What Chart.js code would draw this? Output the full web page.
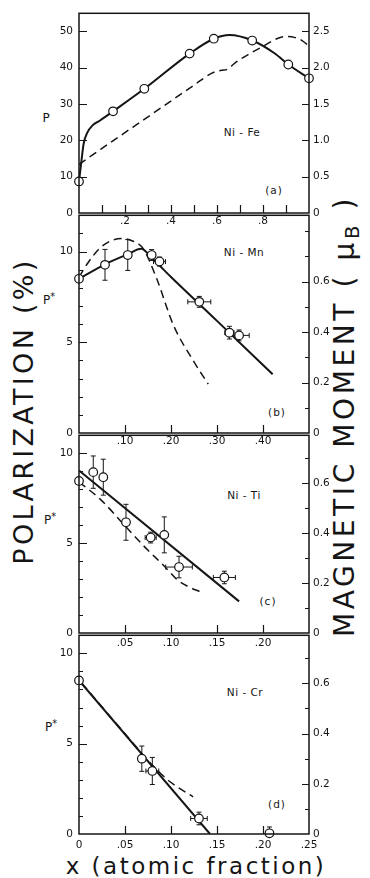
<!DOCTYPE html>
<html>
<head>
<meta charset="utf-8">
<script src="https://cdn.jsdelivr.net/npm/chart.js@4.4.0/dist/chart.umd.min.js"></script>
<style>
  html, body { margin: 0; padding: 0; background: #fff; }
  #wrap { position: relative; width: 370px; height: 878px; overflow: hidden;
          font-family: "DejaVu Sans", sans-serif; color: #151515; }
  canvas { position: absolute; left: 0; }
  .lbl { position: absolute; transform: translate(-50%, -50%); white-space: nowrap; }
  .big { position: absolute; white-space: nowrap; transform: translate(-50%, -50%) rotate(-90deg); }
  sup { font-size: 0.8em; vertical-align: 0.35em; }
  sub { font-size: 0.7em; vertical-align: -0.25em; }
</style>
</head>
<body>
<div id="wrap">
  <div class="big" style="left:23px; top:411px; font-size:27px; letter-spacing:3.3px;">POLARIZATION (%)</div>
  <div class="big" style="left:346px; top:416px; font-size:28px; letter-spacing:3.6px;">MAGNETIC MOMENT ( μ<sub>B</sub> )</div>
  <div class="lbl" style="left:196px; top:866px; font-size:23px; letter-spacing:2.5px;">x (atomic fraction)</div>

  <div class="lbl" style="left:46px; top:118px; font-size:12px;">P</div>
  <div class="lbl" style="left:49px; top:299px; font-size:12px;">P<sup>*</sup></div>
  <div class="lbl" style="left:50px; top:519px; font-size:12px;">P<sup>*</sup></div>
  <div class="lbl" style="left:51px; top:726px; font-size:12px;">P<sup>*</sup></div>

  <div class="lbl" style="left:242px; top:132px; font-size:10.5px; letter-spacing:0.5px;">Ni - Fe</div>
  <div class="lbl" style="left:274px; top:190px; font-size:10.5px; letter-spacing:1px;">(a)</div>
  <div class="lbl" style="left:244px; top:252px; font-size:10.5px; letter-spacing:0.5px;">Ni - Mn</div>
  <div class="lbl" style="left:277px; top:412px; font-size:10.5px; letter-spacing:1px;">(b)</div>
  <div class="lbl" style="left:244px; top:495px; font-size:10.5px; letter-spacing:0.5px;">Ni - Ti</div>
  <div class="lbl" style="left:268px; top:601px; font-size:10.5px; letter-spacing:1px;">(c)</div>
  <div class="lbl" style="left:245px; top:692px; font-size:10.5px; letter-spacing:0.5px;">Ni - Cr</div>
  <div class="lbl" style="left:277px; top:804px; font-size:10.5px; letter-spacing:1px;">(d)</div>
</div>

<script>
const ink = "#151515";
const tickFont = { family: "DejaVu Sans", size: 10.5 };

// (a) Ni-Fe : P against x, moment = P / 20
const feX = [0, 0.148, 0.284, 0.481, 0.586, 0.753, 0.91, 1.0];
const feP = [8.7, 28.0, 34.2, 43.9, 48.0, 47.5, 40.9, 37.1];
const feSolidX = [0, 0.01, 0.02, 0.035, 0.06, 0.09, 0.148, 0.284, 0.481, 0.586, 0.655, 0.753, 0.85, 0.91, 1.0];
const feSolidP = [8.7, 14, 19, 22, 24.2, 25.4, 28, 34.2, 43.9, 48.0, 49.0, 47.5, 44.0, 40.9, 37.1];
const feDashX = [0, 0.1, 0.3, 0.5, 0.58, 0.62, 0.645, 0.68, 0.74, 0.8, 0.86, 0.9, 0.94, 0.97, 1.0];
const feDashP = [13.4, 17.8, 26.5, 35.2, 38.6, 39.3, 39.6, 41.4, 43.8, 45.9, 48.0, 48.6, 48.3, 47.5, 46.0];

// (b) Ni-Mn
const mnX = [0, 0.0565, 0.106, 0.158, 0.175, 0.2615, 0.327, 0.348];
const mnP = [8.5, 9.27, 9.81, 9.81, 9.45, 7.23, 5.53, 5.38];
const mnErrP = [0, 0.85, 0.85, 0.3, 0.25, 0.3, 0.35, 0.3];
const mnErrX = [0, 0, 0, 0.008, 0.013, 0.025, 0.01, 0.022];
const mnSolidX = [0, 0.0565, 0.106, 0.135, 0.16, 0.2, 0.3, 0.421];
const mnSolidP = [8.5, 9.3, 9.85, 10.15, 9.6, 8.6, 6.18, 3.24];
const mnDashX = [0, 0.02, 0.0457, 0.07, 0.093, 0.115, 0.14, 0.169, 0.205, 0.249, 0.281];
const mnDashP = [8.6, 9.4, 10.2, 10.6, 10.72, 10.6, 10.14, 8.5, 5.96, 3.96, 2.69];

// (c) Ni-Ti
const tiX = [0, 0.0155, 0.0264, 0.0511, 0.0779, 0.0927, 0.1087, 0.158];
const tiP = [8.46, 8.95, 8.67, 6.16, 5.31, 5.46, 3.67, 3.09];
const tiErrP = [0, 0.9, 1.0, 1.0, 0.3, 1.0, 0.6, 0.35];
const tiErrX = [0, 0, 0, 0, 0.006, 0, 0.0145, 0.012];
const tiSolidX = [0, 0.174];
const tiSolidP = [9.04, 1.76];
const tiDashX = [0, 0.023, 0.052, 0.075, 0.092, 0.106, 0.118, 0.1315];
const tiDashP = [8.4, 7.45, 5.85, 4.6, 3.76, 3.0, 2.6, 2.3];

// (d) Ni-Cr
const crX = [0, 0.0683, 0.0797, 0.1304, 0.207];
const crP = [8.5, 4.17, 3.49, 0.86, 0.04];
const crErrP = [0, 0.7, 0.75, 0.35, 0.35];
const crErrX = [0, 0.003, 0.007, 0.009, 0];
const crSolidX = [0, 0.1424];
const crSolidP = [8.5, 0];
const crDashX = [0.003, 0.05, 0.08, 0.1, 0.124];
const crDashP = [8.35, 5.55, 3.8, 2.85, 2.06];

// tick labels
const feXTicks = [0.2, 0.4, 0.6, 0.8];
const feXText = [".2", ".4", ".6", ".8"];
const feYTicks = [0, 10, 20, 30, 40, 50];
const feYText = ["0", "10", "20", "30", "40", "50"];
const feMTicks = [0, 0.5, 1, 1.5, 2, 2.5];
const feMText = ["0", "0.5", "1.0", "1.5", "2.0", "2.5"];
const mnXTicks = [0.1, 0.2, 0.3, 0.4];
const mnXText = [".10", ".20", ".30", ".40"];
const tiXTicks = [0.05, 0.1, 0.15, 0.2];
const tiXText = [".05", ".10", ".15", ".20"];
const crXTicks = [0, 0.05, 0.1, 0.15, 0.2, 0.25];
const crXText = ["0", ".05", ".10", ".15", ".20", ".25"];
const pTicks = [0, 5, 10];
const pText = ["0", "5", "10"];
const mTicks = [0, 0.2, 0.4, 0.6];
const mText = ["0", "0.2", "0.4", "0.6"];

// P* units per Bohr magneton on panels b-d
const pPerMoment = 13.9;

const panels = [
  { id: "a", top: 11, height: 202, xMax: 1, xStep: 0.1, xPad: 2, yMax: 55, yStep: 10, mMax: 55 / 20, mStep: 0.5,
    xt: [feXTicks, feXText], yt: [feYTicks, feYText], mt: [feMTicks, feMText], yMinor: 8, mMinor: 7,
    ptsX: feX, ptsY: feP, errX: null, errY: null,
    solidX: feSolidX, solidY: feSolidP, dashX: feDashX, dashY: feDashP },
  { id: "b", top: 213, height: 220, xMax: 0.5, xStep: 0.1, xPad: 2, yMax: 12, yStep: 1, mMax: 12 / pPerMoment, mStep: 0.1,
    xt: [mnXTicks, mnXText], yt: [pTicks, pText], mt: [mTicks, mText], yMinor: 4, mMinor: 4,
    ptsX: mnX, ptsY: mnP, errX: mnErrX, errY: mnErrP,
    solidX: mnSolidX, solidY: mnSolidP, dashX: mnDashX, dashY: mnDashP },
  { id: "c", top: 433, height: 200, xMax: 0.25, xStep: 0.05, xPad: 4, yMax: 11, yStep: 1, mMax: 11 / pPerMoment, mStep: 0.1,
    xt: [tiXTicks, tiXText], yt: [pTicks, pText], mt: [mTicks, mText], yMinor: 4, mMinor: 4,
    ptsX: tiX, ptsY: tiP, errX: tiErrX, errY: tiErrP,
    solidX: tiSolidX, solidY: tiSolidP, dashX: tiDashX, dashY: tiDashP },
  { id: "d", top: 633, height: 201, xMax: 0.25, xStep: 0.05, xPad: 5, yMax: 11, yStep: 1, mMax: 11 / pPerMoment, mStep: 0.1,
    xt: [crXTicks, crXText], yt: [pTicks, pText], mt: [mTicks, mText], yMinor: 4, mMinor: 4,
    ptsX: crX, ptsY: crP, errX: crErrX, errY: crErrP,
    solidX: crSolidX, solidY: crSolidP, dashX: crDashX, dashY: crDashP }
];

function toXY(xs, ys) {
  return xs.map((x, i) => ({ x: x, y: ys[i] }));
}

function pick(pair) {
  return function (v) {
    for (let i = 0; i < pair[0].length; i++) {
      if (Math.abs(pair[0][i] - v) < 1e-6) return pair[1][i];
    }
    return "";
  };
}

// error bars under the circles, frame and inward ticks on top
function panelPlugin(p) {
  return {
    id: "panel_" + p.id,
    beforeDatasetsDraw(chart) {
      if (!p.errX && !p.errY) return;
      const { ctx, chartArea: a, scales } = chart;
      const x = scales.x, y = scales.y;
      ctx.save();
      ctx.beginPath();
      ctx.rect(a.left, a.top, a.right - a.left, a.bottom - a.top);
      ctx.clip();
      ctx.strokeStyle = ink;
      ctx.lineWidth = 1;
      p.ptsX.forEach((xv, i) => {
        const yv = p.ptsY[i];
        const px = x.getPixelForValue(xv), py = y.getPixelForValue(yv);
        const ey = p.errY[i], ex = p.errX[i];
        ctx.beginPath();
        if (ey) {
          const t = y.getPixelForValue(yv + ey), b = y.getPixelForValue(yv - ey);
          ctx.moveTo(px, t); ctx.lineTo(px, b);
          ctx.moveTo(px - 2.5, t); ctx.lineTo(px + 2.5, t);
          ctx.moveTo(px - 2.5, b); ctx.lineTo(px + 2.5, b);
        }
        if (ex) {
          const l = x.getPixelForValue(xv - ex), r = x.getPixelForValue(xv + ex);
          ctx.moveTo(l, py); ctx.lineTo(r, py);
          ctx.moveTo(l, py - 2.5); ctx.lineTo(l, py + 2.5);
          ctx.moveTo(r, py - 2.5); ctx.lineTo(r, py + 2.5);
        }
        ctx.stroke();
      });
      ctx.restore();
    },
    afterDraw(chart) {
      const { ctx, chartArea: a, scales } = chart;
      ctx.save();
      ctx.strokeStyle = ink;
      ctx.lineWidth = 1.5;
      ctx.strokeRect(a.left, a.top, a.right - a.left, a.bottom - a.top);
      ctx.lineWidth = 1.2;
      ctx.beginPath();
      scales.x.ticks.forEach(t => {
        if (t.value <= scales.x.min + 1e-9 || t.value >= scales.x.max - 1e-9) return;
        const px = Math.round(scales.x.getPixelForValue(t.value)) + 0.5;
        ctx.moveTo(px, a.bottom); ctx.lineTo(px, a.bottom - 8);
      });
      scales.y.ticks.forEach(t => {
        if (t.value <= scales.y.min + 1e-9 || t.value >= scales.y.max - 1e-9) return;
        const py = Math.round(scales.y.getPixelForValue(t.value)) + 0.5;
        ctx.moveTo(a.left, py); ctx.lineTo(a.left + (t.label ? 8 : p.yMinor), py);
      });
      scales.y2.ticks.forEach(t => {
        if (t.value <= scales.y2.min + 1e-9 || t.value >= scales.y2.max - 1e-9) return;
        const py = Math.round(scales.y2.getPixelForValue(t.value)) + 0.5;
        ctx.moveTo(a.right, py); ctx.lineTo(a.right - (t.label ? 7 : p.mMinor), py);
      });
      ctx.stroke();
      ctx.restore();
    }
  };
}

function makeConfig(p) {
  return {
    type: "scatter",
    data: {
      datasets: [
        { data: toXY(p.ptsX, p.ptsY), showLine: false, pointRadius: 4.3,
          pointBackgroundColor: "#fff", pointBorderColor: ink, pointBorderWidth: 1.2, clip: false },
        { data: toXY(p.solidX, p.solidY), showLine: true, borderColor: ink, borderWidth: 2,
          pointRadius: 0, cubicInterpolationMode: "monotone" },
        { data: toXY(p.dashX, p.dashY), showLine: true, borderColor: ink, borderWidth: 1.5,
          borderDash: [8, 5], pointRadius: 0, cubicInterpolationMode: "monotone" }
      ]
    },
    options: {
      responsive: false,
      maintainAspectRatio: false,
      animation: false,
      events: [],
      layout: { padding: { top: 10, left: 0, right: 0, bottom: 0 } },
      plugins: { legend: { display: false }, tooltip: { enabled: false } },
      scales: {
        x: {
          type: "linear", min: 0, max: p.xMax,
          grid: { display: false, drawTicks: false }, border: { display: false },
          ticks: { stepSize: p.xStep, autoSkip: false, maxRotation: 0, padding: p.xPad,
                   font: tickFont, color: ink, callback: pick(p.xt) },
          afterFit: s => { s.height = 20; }
        },
        y: {
          type: "linear", position: "left", min: 0, max: p.yMax,
          grid: { display: false, drawTicks: false }, border: { display: false },
          ticks: { stepSize: p.yStep, autoSkip: false, includeBounds: false, padding: 6,
                   font: tickFont, color: ink, callback: pick(p.yt) },
          afterFit: s => { s.width = 79; }
        },
        y2: {
          type: "linear", position: "right", min: 0, max: p.mMax,
          grid: { display: false, drawTicks: false }, border: { display: false },
          ticks: { stepSize: p.mStep, autoSkip: false, includeBounds: false, padding: 4,
                   font: tickFont, color: ink, callback: pick(p.mt) },
          afterFit: s => { s.width = 61; }
        }
      }
    },
    plugins: [panelPlugin(p)]
  };
}

const wrap = document.getElementById("wrap");
panels.forEach(p => {
  const c = document.createElement("canvas");
  c.width = 370;
  c.height = p.height + 30;
  c.style.top = (p.top - 10) + "px";
  wrap.appendChild(c);
  new Chart(c, makeConfig(p));
});
</script>
</body>
</html>
